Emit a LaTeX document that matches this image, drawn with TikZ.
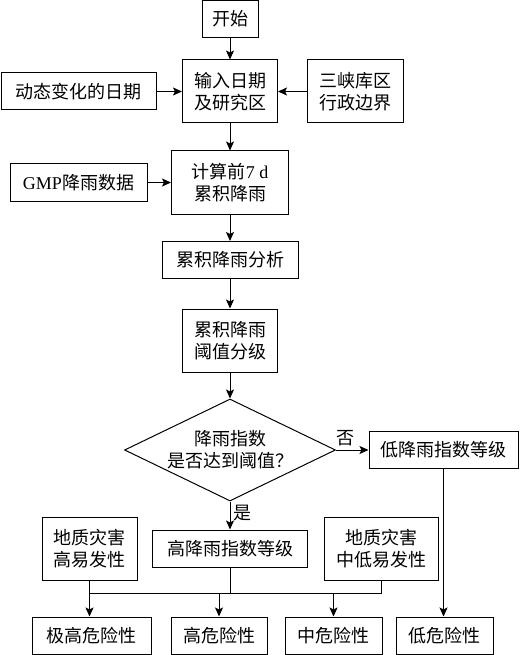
\documentclass[tikz,border=0pt]{standalone}
\usepackage{fontspec}
\setmainfont{Noto Sans CJK SC}
\newfontfamily\latin{Liberation Serif}
\usetikzlibrary{shapes.geometric,arrows.meta}

\tikzset{
  box/.style={draw, line width=1pt, inner sep=0pt, align=center, minimum height=37},
  tall/.style={minimum height=63},
  arr/.style={-{Stealth[length=9pt,width=8pt,inset=2pt]}, line width=1pt},
  every node/.style={font=\fontsize{18}{22}\selectfont}
}

\begin{document}
\begin{tikzpicture}[x=1pt,y=-1pt]
\useasboundingbox (0,0) rectangle (520,655);

\node[box, minimum width=56] (start) at (230,19) {开始};
\node[box, tall, minimum width=95] (input) at (230,91.5) {输入日期\\及研究区};
\node[box, minimum width=155] (dates) at (78.5,91.5) {动态变化的日期};
\node[box, tall, minimum width=96] (border) at (355,91.5) {三峡库区\\行政边界};
\node[box, tall, minimum width=117] (calc) at (230,182.5) {计算前{\latin 7 d}\\累积降雨};
\node[box, minimum width=137] (gmp) at (78.5,182.5) {{\latin GMP}降雨数据};
\node[box, minimum width=136] (analysis) at (230,260) {累积降雨分析};
\node[box, tall, minimum width=95] (grade) at (230,340.5) {累积降雨\\阈值分级};
\node[draw, diamond, aspect=2.07, line width=1pt, inner sep=0pt, align=center,
  minimum width=211, minimum height=102] (check) at (230,450) {降雨指数\\是否达到阈值？};
\node[box, minimum width=149] (low) at (443.5,450) {低降雨指数等级};

\node[box, tall, minimum width=95] (geohigh) at (89.5,549) {地质灾害\\高易发性};
\node[box, minimum width=155] (high) at (230,548.5) {高降雨指数等级};
\node[box, tall, minimum width=114] (geolow) at (381,549) {地质灾害\\中低易发性};
\coordinate (bus) at (230,593);

\node[box, minimum width=119] (r1) at (91.5,635.5) {极高危险性};
\node[box, minimum width=96] (r2) at (219,635.5) {高危险性};
\node[box, minimum width=97] (r3) at (333.5,635.5) {中危险性};
\node[box, minimum width=97] (r4) at (444.5,635.5) {低危险性};

\draw[arr] (start) -- (input);
\draw[arr] (dates) -- (input);
\draw[arr] (border) -- (input);
\draw[arr] (input) -- (calc);
\draw[arr] (gmp) -- (calc);
\draw[arr] (calc) -- (analysis);
\draw[arr] (analysis) -- (grade);
\draw[arr] (grade) -- (check);
\draw[arr] (check) -- node[pos=0.3,above]{否} (low);
\draw[arr] (check) -- node[pos=0.4,right]{是} (high);
\draw[arr] (low) -- (low |- r4.north);

\draw[line width=1pt] (geohigh) -- (geohigh |- bus) -- (geolow |- bus) -- (geolow);
\draw[line width=1pt] (high) -- (high |- bus);
\draw[arr] (geohigh |- bus) -- (geohigh |- r1.north);
\draw[arr] (r2 |- bus) -- (r2);
\draw[arr] (r3 |- bus) -- (r3);
\end{tikzpicture}
\end{document}
